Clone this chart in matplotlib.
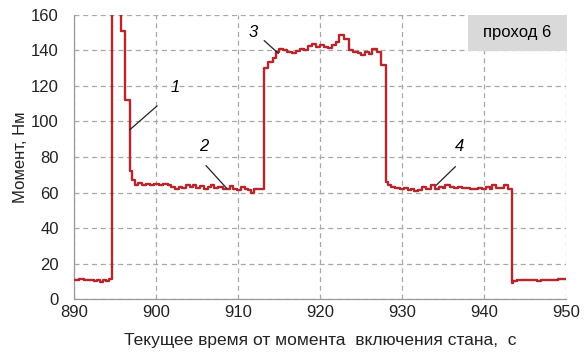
import matplotlib
matplotlib.use("Agg")
import matplotlib.pyplot as plt
from matplotlib.patches import Rectangle

# Текущее время, с / момент, Нм (ступенчатый сигнал)
t = [890.0, 890.6, 891.2, 891.6, 892.0, 892.4, 892.8, 893.2, 893.5, 893.9,
     894.3, 894.6, 895.7, 896.2, 896.8, 897.1, 897.4, 897.8, 898.3, 898.8,
     899.3, 899.8, 900.4, 900.9, 901.4, 901.8, 902.3, 902.8, 903.2, 903.6,
     904.1, 904.5, 904.9, 905.4, 905.8, 906.3, 906.7, 907.1, 907.6, 908.1,
     908.6, 909.0, 909.4, 909.9, 910.3, 910.8, 911.2, 911.6, 912.0, 912.5,
     913.2, 913.7, 914.3, 914.6, 915.0, 915.5, 916.0, 916.6, 917.1, 917.6,
     918.1, 918.5, 919.0, 919.5, 920.0, 920.5, 921.0, 921.5, 921.9, 922.3,
     922.9, 923.5, 924.0, 924.6, 925.0, 925.5, 926.0, 926.4, 926.9, 927.4,
     928.0, 928.3, 928.7, 929.2, 929.7, 930.2, 930.7, 931.1, 931.5, 932.0,
     932.4, 932.9, 933.6, 934.0, 934.5, 935.0, 935.3, 935.8, 936.3, 936.8,
     937.3, 937.8, 938.3, 938.8, 939.3, 939.8, 940.3, 940.7, 941.0, 941.5,
     942.0, 942.4, 942.9, 943.4, 943.6, 944.0, 944.5, 945.0, 945.5, 946.0,
     946.5, 947.0, 947.5, 948.0, 948.5, 949.0, 949.5, 950.0]
m = [11, 11.5, 11, 10.5, 11, 10, 10.5, 9.5, 10.5, 10,
     11.5, 200, 151, 112, 72, 67, 64.5, 65.5, 64.5, 65,
     64, 65, 64.5, 65, 64, 63, 62, 63, 62.5, 64,
     63, 64, 62.5, 63.5, 62, 63, 64, 62.5, 63, 62,
     62, 63.5, 62, 61.5, 63, 62, 61.5, 60, 62, 62,
     130, 133.5, 136, 139, 141, 140, 139, 138.5, 139.5, 141,
     140, 142.5, 143.5, 142, 143, 142, 141.5, 143, 144.5, 148.5,
     146.5, 140, 139, 138.5, 137.5, 139, 138, 141, 139, 132,
     66, 64, 63, 62.5, 62, 62.5, 61.5, 62, 61, 61.5,
     63, 62, 64.5, 62, 63, 62.5, 64, 63, 62.5, 63,
     62.5, 62.5, 62, 62, 62.5, 62, 63, 62, 64, 62.5,
     62.5, 64, 62, 9, 10, 10.5, 10.5, 11, 10.5, 11,
     10, 10.5, 11, 10.5, 11, 11.5, 11.5, 11.5]

x_ticks = [890, 900, 910, 920, 930, 940, 950]
y_ticks = [0, 20, 40, 60, 80, 100, 120, 140, 160]

# номера участков: (подпись, позиция текста, начало выноски, конец выноски)
labels = [("1", (902.3, 119), (900.1, 108.7), (896.8, 95.4)),
          ("2", (905.8, 86), (906.1, 75.1), (908.6, 62.4)),
          ("3", (911.9, 150), (913.2, 145.5), (914.9, 138.4)),
          ("4", (937.0, 86), (936.5, 74.5), (934.2, 64.2))]

plt.rcParams["font.family"] = ["Liberation Sans", "DejaVu Sans"]

fig = plt.figure(figsize=(5.84, 3.56), dpi=100)
ax = fig.add_axes([0.127, 0.160, 0.842, 0.798])

ax.step(t, m, where="post", color="#b8262b", lw=1.7, zorder=3)

ax.set_xlim(890, 950)
ax.set_ylim(0, 160)
ax.set_xticks(x_ticks)
ax.set_yticks(y_ticks)
ax.tick_params(length=0, labelsize=12, colors="#222222")
ax.tick_params(axis="y", pad=11)
ax.tick_params(axis="x", pad=4)
ax.grid(True, ls=(0, (4, 3)), color="#a8a8a8", lw=0.9)
for s in ["top", "right"]:
    ax.spines[s].set_visible(False)
for s in ["left", "bottom"]:
    ax.spines[s].set_color("#999999")
    ax.spines[s].set_linewidth(0.9)

ax.set_xlabel("Текущее время от момента  включения стана,  с", fontsize=12.5,
              color="#222222", labelpad=10)
ax.set_ylabel("Момент, Нм", fontsize=12, color="#222222", labelpad=2)

for txt, pos, p1, p2 in labels:
    ax.text(pos[0], pos[1], txt, fontsize=12, style="italic", ha="center", va="center")
    ax.plot([p1[0], p2[0]], [p1[1], p2[1]], color="#222222", lw=0.9, zorder=4)

ax.add_patch(Rectangle((938, 139.5), 12.1, 20.5, facecolor="#d9d9d9", edgecolor="none",
                       zorder=2, clip_on=False))
ax.text(944, 150, "проход 6", fontsize=12, ha="center", va="center", zorder=5)

fig.savefig("out.png", dpi=100)
